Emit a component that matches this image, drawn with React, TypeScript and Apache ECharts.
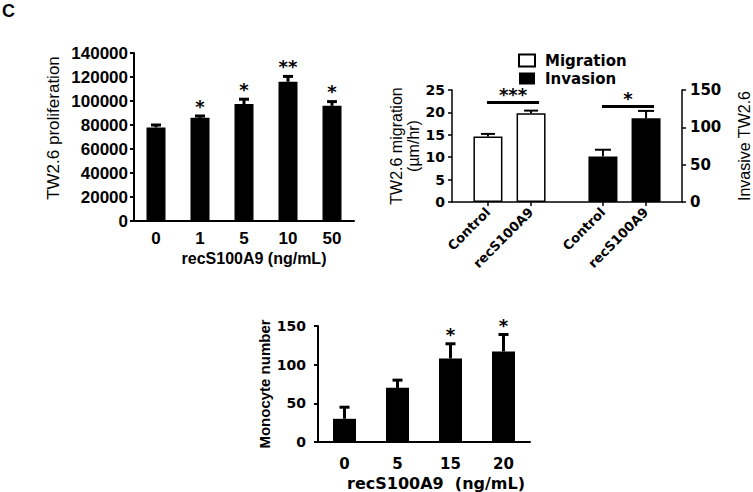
import React, { useEffect, useRef } from "react";
import * as echarts from "echarts";

// Panel A: proliferation
const prolifDoses = ["0", "1", "5", "10", "50"];
const prolifValues = [78000, 86000, 97500, 116000, 96000];
const prolifErrors = [2000, 1500, 4000, 4500, 3500];
const prolifSig = ["", "*", "*", "**", "*"];
const prolifTicks = { min: 0, max: 140000, interval: 20000 };

// Panel B: migration / invasion
const bGroups = ["Control", "recS100A9"];
const migrationValues = [14.6, 19.8];
const migrationErrors = [0.6, 0.6];
const invasionValues = [61, 112];
const invasionErrors = [9, 10];
const migrationSig = "***";
const invasionSig = "*";
const migrationBracketLevel = 22.2; // left axis units
const invasionBracketLevel = 128; // right axis units
const migrationTicks = { min: 0, max: 25, interval: 5 };
const invasionTicks = { min: 0, max: 150, interval: 50 };

// Panel C: monocytes
const monoDoses = ["0", "5", "15", "20"];
const monoValues = [30, 70, 108, 117];
const monoErrors = [15, 10, 19, 22];
const monoSig = ["", "", "*", "*"];
const monoTicks = { min: 0, max: 150, interval: 50 };

// layout for panel B slots (positions on a fine category axis)
const B_SLOTS = 16;
const migSlots = [2, 5];
const invSlots = [10, 13];

const LIB = "Liberation Sans";
const DJV = "DejaVu Sans";

function errorRender(sig: string[], capHalf: number, stemW: number, capW: number, starFont: string, starGap: number) {
  return (params: any, api: any) => {
    const i = api.value(0);
    const v = api.value(1);
    const e = api.value(2);
    const base = api.coord([i, v]);
    const top = api.coord([i, v + e]);
    const children: any[] = [
      { type: "line", shape: { x1: base[0], y1: base[1], x2: top[0], y2: top[1] }, style: { stroke: "#000", lineWidth: stemW } },
      { type: "line", shape: { x1: top[0] - capHalf, y1: top[1], x2: top[0] + capHalf, y2: top[1] }, style: { stroke: "#000", lineWidth: capW } },
    ];
    const s = sig[params.dataIndex];
    if (s) {
      children.push({
        type: "text",
        x: top[0],
        y: top[1] - starGap,
        style: { text: s, textAlign: "center", textVerticalAlign: "bottom", font: starFont, fill: "#000" },
      });
    }
    return { type: "group", children };
  };
}

function bracketRender(label: string) {
  return (params: any, api: any) => {
    const a = api.coord([api.value(0), api.value(2)]);
    const b = api.coord([api.value(1), api.value(2)]);
    const x1 = a[0] - 1;
    const x2 = b[0] + 8;
    return {
      type: "group",
      children: [
        { type: "line", shape: { x1, y1: a[1], x2, y2: a[1] }, style: { stroke: "#000", lineWidth: 3 } },
        {
          type: "text",
          x: (x1 + x2) / 2,
          y: a[1] + 1,
          style: { text: label, textAlign: "center", textVerticalAlign: "bottom", font: `bold 18px "${DJV}"`, fill: "#000" },
        },
      ],
    };
  };
}

const plain = (v: number) => String(v);

export default function App() {
  const ref = useRef<HTMLDivElement>(null);
  useEffect(() => {
    if (!ref.current) return;
    const chart = echarts.init(ref.current, undefined, { renderer: "svg" });

    const bCategories: string[] = Array.from({ length: B_SLOTS }, () => "");
    migSlots.forEach((s, k) => (bCategories[s] = bGroups[k]));
    invSlots.forEach((s, k) => (bCategories[s] = bGroups[k]));
    const migData: any[] = Array.from({ length: B_SLOTS }, () => null);
    migSlots.forEach((s, k) => (migData[s] = migrationValues[k]));
    const invData: any[] = Array.from({ length: B_SLOTS }, () => null);
    invSlots.forEach((s, k) => (invData[s] = invasionValues[k]));

    const blackLine = (w: number) => ({ show: true, lineStyle: { color: "#000", width: w } });
    const tickOut = (w: number) => ({ show: true, length: 4, lineStyle: { color: "#000", width: w } });

    const option: any = {
      animation: false,
      graphic: [
        { type: "text", left: 2, top: 2, style: { text: "C", font: `bold 18px "${LIB}"`, fill: "#000" } },
      ],
      legend: {
        left: 518,
        top: 53,
        orient: "vertical",
        padding: 0,
        itemWidth: 16,
        itemHeight: 12,
        itemGap: 3,
        icon: "rect",
        textStyle: { fontFamily: DJV, fontWeight: "bold", fontSize: 15, color: "#000", padding: [0, 0, 0, 5] },
        data: [
          { name: "Migration", itemStyle: { color: "#fff", borderColor: "#000", borderWidth: 2 } },
          { name: "Invasion", itemStyle: { color: "#000" } },
        ],
      },
      grid: [
        { left: 134, top: 53, width: 220, height: 168 },
        { left: 452, top: 90, width: 231, height: 112 },
        { left: 318, top: 326, width: 212, height: 118 },
      ],
      xAxis: [
        {
          gridIndex: 0,
          type: "category",
          data: prolifDoses,
          axisLine: blackLine(2),
          axisTick: { show: false },
          axisLabel: { margin: 9, color: "#000", fontFamily: LIB, fontWeight: "bold", fontSize: 17 },
          name: "recS100A9 (ng/mL)",
          nameLocation: "middle",
          nameGap: 29,
          nameTextStyle: { color: "#000", fontFamily: LIB, fontWeight: "bold", fontSize: 16, padding: [0, 0, 0, 20] },
        },
        {
          gridIndex: 1,
          type: "category",
          data: bCategories,
          axisLine: blackLine(1.5),
          axisTick: {
            show: true,
            alignWithLabel: true,
            length: 4,
            interval: (_i: number, v: string) => v !== "",
            lineStyle: { color: "#000", width: 1.5 },
          },
          axisLabel: { interval: 0, rotate: 45, margin: 8, color: "#000", fontFamily: DJV, fontWeight: "bold", fontSize: 13 },
        },
        {
          gridIndex: 2,
          type: "category",
          data: monoDoses,
          axisLine: blackLine(2),
          axisTick: { show: false },
          axisLabel: { margin: 14, color: "#000", fontFamily: DJV, fontWeight: "bold", fontSize: 15 },
          name: "recS100A9  (ng/mL)",
          nameLocation: "middle",
          nameGap: 33,
          nameTextStyle: { color: "#000", fontFamily: DJV, fontWeight: "bold", fontSize: 16, padding: [0, 0, 0, 24] },
        },
      ],
      yAxis: [
        {
          gridIndex: 0,
          type: "value",
          ...prolifTicks,
          splitLine: { show: false },
          axisLine: blackLine(2),
          axisTick: tickOut(2),
          axisLabel: { margin: 6, color: "#000", fontFamily: LIB, fontWeight: "bold", fontSize: 17, formatter: plain },
          name: "TW2.6 proliferation",
          nameLocation: "middle",
          nameGap: 72,
          nameTextStyle: { color: "#000", fontFamily: LIB, fontSize: 17, padding: [0, 0, 0, 18] },
        },
        {
          gridIndex: 1,
          type: "value",
          ...migrationTicks,
          splitLine: { show: false },
          axisLine: blackLine(1.5),
          axisTick: tickOut(1.5),
          axisLabel: { margin: 7, color: "#000", fontFamily: DJV, fontWeight: "bold", fontSize: 14, formatter: plain },
          name: "TW2.6 migration\n(µm/hr)",
          nameLocation: "middle",
          nameGap: 27,
          nameTextStyle: { color: "#000", fontFamily: LIB, fontSize: 16, lineHeight: 17 },
        },
        {
          gridIndex: 1,
          type: "value",
          position: "right",
          ...invasionTicks,
          splitLine: { show: false },
          axisLine: blackLine(1.5),
          axisTick: tickOut(1.5),
          axisLabel: { margin: 8, color: "#000", fontFamily: DJV, fontWeight: "bold", fontSize: 15, formatter: plain },
          name: "Invasive TW2.6",
          nameLocation: "middle",
          nameRotate: 90,
          nameGap: 54,
          nameTextStyle: { color: "#000", fontFamily: LIB, fontSize: 16 },
        },
        {
          gridIndex: 2,
          type: "value",
          ...monoTicks,
          splitLine: { show: false },
          axisLine: blackLine(2),
          axisTick: tickOut(2),
          axisLabel: { margin: 12, color: "#000", fontFamily: DJV, fontWeight: "bold", fontSize: 14, formatter: plain },
          name: "Monocyte number",
          nameLocation: "middle",
          nameGap: 46,
          nameTextStyle: { color: "#000", fontFamily: LIB, fontWeight: "bold", fontSize: 15 },
        },
      ],
      series: [
        {
          type: "bar",
          xAxisIndex: 0,
          yAxisIndex: 0,
          data: prolifValues,
          barWidth: 19,
          itemStyle: { color: "#000" },
        },
        {
          type: "custom",
          xAxisIndex: 0,
          yAxisIndex: 0,
          z: 3,
          data: prolifValues.map((v, i) => [i, v, prolifErrors[i]]),
          encode: { x: 0, y: 1 },
          renderItem: errorRender(prolifSig, 5, 3, 3, `bold 18px "${DJV}"`, 1),
        },
        {
          name: "Migration",
          type: "bar",
          xAxisIndex: 1,
          yAxisIndex: 1,
          data: migData,
          barWidth: 29,
          barGap: "-100%",
          itemStyle: { color: "#fff", borderColor: "#000", borderWidth: 1.5 },
        },
        {
          name: "Invasion",
          type: "bar",
          xAxisIndex: 1,
          yAxisIndex: 2,
          data: invData,
          barWidth: 29,
          barGap: "-100%",
          itemStyle: { color: "#000" },
        },
        {
          type: "custom",
          xAxisIndex: 1,
          yAxisIndex: 1,
          z: 3,
          data: migrationValues.map((v, k) => [migSlots[k], v, migrationErrors[k]]),
          encode: { x: 0, y: 1 },
          renderItem: errorRender(["", ""], 7, 2, 2, `bold 16px "${DJV}"`, 2),
        },
        {
          type: "custom",
          xAxisIndex: 1,
          yAxisIndex: 2,
          z: 3,
          data: invasionValues.map((v, k) => [invSlots[k], v, invasionErrors[k]]),
          encode: { x: 0, y: 1 },
          renderItem: errorRender(["", ""], 8, 2, 2, `bold 16px "${DJV}"`, 2),
        },
        {
          type: "custom",
          xAxisIndex: 1,
          yAxisIndex: 1,
          z: 3,
          data: [[migSlots[0], migSlots[1], migrationBracketLevel]],
          encode: { x: 0, y: 2 },
          renderItem: bracketRender(migrationSig),
        },
        {
          type: "custom",
          xAxisIndex: 1,
          yAxisIndex: 2,
          z: 3,
          data: [[invSlots[0], invSlots[1], invasionBracketLevel]],
          encode: { x: 0, y: 2 },
          renderItem: bracketRender(invasionSig),
        },
        {
          type: "bar",
          xAxisIndex: 2,
          yAxisIndex: 3,
          data: monoValues,
          barWidth: 23,
          itemStyle: { color: "#000" },
        },
        {
          type: "custom",
          xAxisIndex: 2,
          yAxisIndex: 3,
          z: 3,
          data: monoValues.map((v, i) => [i, v, monoErrors[i]]),
          encode: { x: 0, y: 1 },
          renderItem: errorRender(monoSig, 5, 3, 3, `bold 18px "${DJV}"`, 0),
        },
      ],
    };
    chart.setOption(option);
    return () => chart.dispose();
  }, []);
  return <div ref={ref} style={{ position: "absolute", left: 0, top: 0, width: 753, height: 492 }} />;
}
